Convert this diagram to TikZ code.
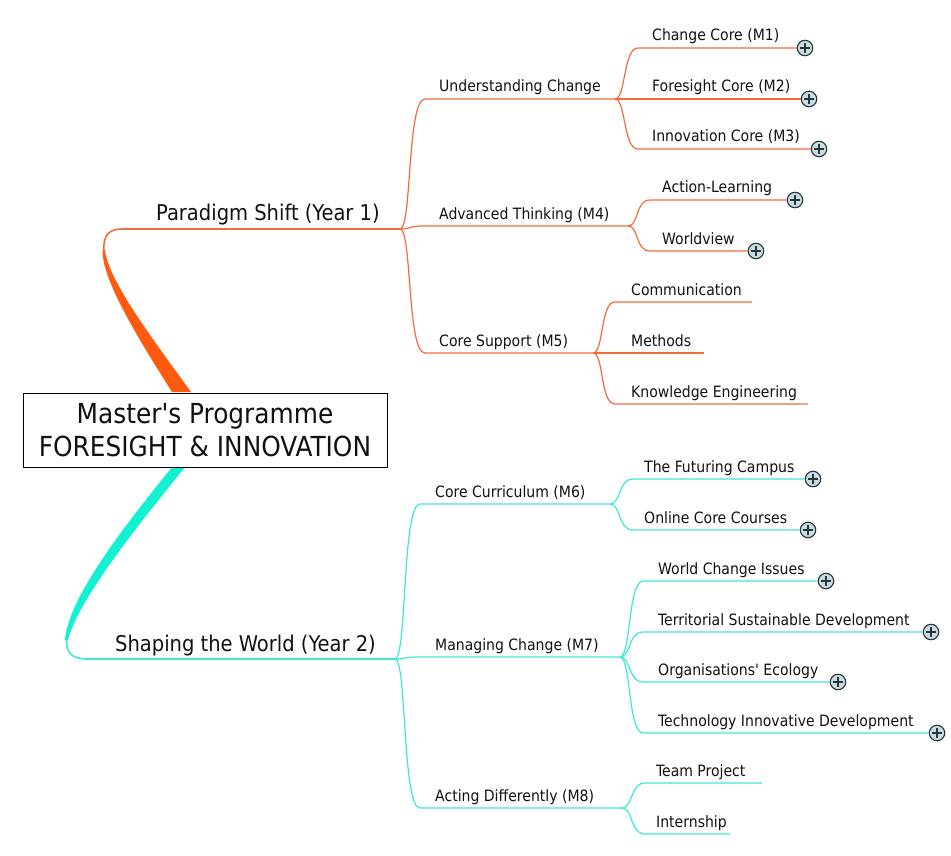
\documentclass[tikz,border=0pt]{standalone}
\usepackage{fontspec}
\defaultfontfeatures[\rmfamily]{}
\setmainfont{DejaVu Sans Condensed}
\definecolor{brO}{HTML}{FF5A0F}
\definecolor{lnO}{HTML}{F26B3A}
\definecolor{brC}{HTML}{12F2D2}
\definecolor{lnC}{HTML}{3DE8D4}
\definecolor{plusfill}{HTML}{C9DCE2}
\definecolor{plusline}{HTML}{27363B}
\definecolor{txt}{HTML}{111111}
\newcommand\lnk[4]{\draw[#1] (#2) .. controls +(11,0) and +(-15,0) .. (#3) -- (#4);}
\begin{document}
\begin{tikzpicture}[x=1pt,y=-1pt,
  lbl/.style={anchor=base west, inner sep=0pt, font=\fontsize{15.6}{19}\selectfont, text=txt},
  mid/.style={anchor=base west, inner sep=0pt, font=\fontsize{21.7}{26}\selectfont, text=txt},
  olink/.style={draw=lnO, line width=1.2pt},
  clink/.style={draw=lnC, line width=1.2pt},
  plusbtn/.style={circle, draw=plusline, fill=plusfill, line width=1.1pt, minimum size=15.5pt, inner sep=0pt,
    path picture={\draw[plusline, line width=2.2pt]
      ([xshift=-4.8pt]path picture bounding box.center) -- ([xshift=4.8pt]path picture bounding box.center)
      ([yshift=-4.8pt]path picture bounding box.center) -- ([yshift=4.8pt]path picture bounding box.center);}},
]
\useasboundingbox (0,0) rectangle (951,856);

% ---------- thick main branches ----------
\coordinate (ps-top) at (103.8,250);
\coordinate (ps-j) at (400,229);
\coordinate (sw-top) at (66.5,640);
\coordinate (sw-j) at (395,659);
\fill[brO] (172,392) .. controls (138,338) and (102,280) .. (102.5,250) -- (105,250)
   .. controls (108,280) and (152,338) .. (191,392) -- cycle;
\draw[lnO, line width=1.6pt] (ps-top) .. controls (103.5,236) and (108,229) .. (122,229) -- (ps-j);
\fill[brC] (173,466) .. controls (125,525) and (68,598) .. (65,640) -- (68,640)
   .. controls (78,600) and (138,525) .. (186,466) -- cycle;
\draw[lnC, line width=1.6pt] (sw-top) .. controls (66,654) and (73,659) .. (88,659) -- (sw-j);

% ---------- root ----------
\node[draw=black, line width=0.8pt, fill=white, minimum width=364pt, minimum height=74pt,
  align=center, font=\fontsize{27.6}{32.5}\selectfont, inner sep=0pt, text=txt] (root) at (205,430)
  {Master's Programme\\FORESIGHT \& INNOVATION};

% ---------- level 1 labels ----------
\node[mid] (t-ps) at (156,221) {Paradigm Shift (Year 1)};
\node[mid] (t-sw) at (115,651) {Shaping the World (Year 2)};

% ---------- orange subtree ----------
\coordinate (uc-c) at (425,99);  \coordinate (uc-j) at (615,99);
\coordinate (at-c) at (425,226); \coordinate (at-j) at (628,226);
\coordinate (cs-c) at (425,353); \coordinate (cs-j) at (593,353);
\node[plusbtn] (m1-p) at (805,48) {};
\node[plusbtn] (m2-p) at (809,99) {};
\node[plusbtn] (m3-p) at (819,149) {};
\node[plusbtn] (al-p) at (795,200) {};
\node[plusbtn] (wv-p) at (756,251) {};
\coordinate (m1-c) at (638,48);
\coordinate (m2-c) at (638,99);
\coordinate (m3-c) at (638,149);
\coordinate (al-c) at (650,200);
\coordinate (wv-c) at (650,251);
\coordinate (co-c) at (615,302); \coordinate (co-e) at (752,302);
\coordinate (me-c) at (615,353); \coordinate (me-e) at (704,353);
\coordinate (ke-c) at (615,404); \coordinate (ke-e) at (808,404);

\draw[olink] (ps-j) .. controls +(12,0) and +(-18,0) .. (uc-c) -- (uc-j);
\draw[olink] (ps-j) .. controls +(12,0) and +(-18,0) .. (at-c) -- (at-j);
\draw[olink] (ps-j) .. controls +(12,0) and +(-18,0) .. (cs-c) -- (cs-j);
\lnk{olink}{uc-j}{m1-c}{m1-p.west}
\lnk{olink}{uc-j}{m2-c}{m2-p.west}
\lnk{olink}{uc-j}{m3-c}{m3-p.west}
\lnk{olink}{at-j}{al-c}{al-p.west}
\lnk{olink}{at-j}{wv-c}{wv-p.west}
\lnk{olink}{cs-j}{co-c}{co-e}
\lnk{olink}{cs-j}{me-c}{me-e}
\lnk{olink}{cs-j}{ke-c}{ke-e}

\node[lbl] (t-uc) at (439,92)  {Understanding Change};
\node[lbl] (t-at) at (439,219) {Advanced Thinking (M4)};
\node[lbl] (t-cs) at (439,346) {Core Support (M5)};
\node[lbl] (t-m1) at (652,41)  {Change Core (M1)};
\node[lbl] (t-m2) at (652,92)  {Foresight Core (M2)};
\node[lbl] (t-m3) at (652,142) {Innovation Core (M3)};
\node[lbl] (t-al) at (662,193) {Action-Learning};
\node[lbl] (t-wv) at (662,244) {Worldview};
\node[lbl] (t-co) at (631,295) {Communication};
\node[lbl] (t-me) at (631,346) {Methods};
\node[lbl] (t-ke) at (631,397) {Knowledge Engineering};

% ---------- cyan subtree ----------
\coordinate (cc-c) at (420,504); \coordinate (cc-j) at (610,504);
\coordinate (mc-c) at (420,657); \coordinate (mc-j) at (620,657);
\coordinate (ad-c) at (420,808); \coordinate (ad-j) at (622,808);
\node[plusbtn] (fc-p) at (813,479) {};
\node[plusbtn] (oc-p) at (808,530) {};
\node[plusbtn] (wc-p) at (826,581) {};
\node[plusbtn] (ts-p) at (931,632) {};
\node[plusbtn] (oe-p) at (838,682) {};
\node[plusbtn] (ti-p) at (937,733) {};
\coordinate (fc-c) at (633,479);
\coordinate (oc-c) at (633,530);
\coordinate (wc-c) at (643,581);
\coordinate (ts-c) at (643,632);
\coordinate (oe-c) at (643,682);
\coordinate (ti-c) at (643,733);
\coordinate (tp-c) at (645,783); \coordinate (tp-e) at (762,783);
\coordinate (in-c) at (645,834); \coordinate (in-e) at (730,834);

\draw[clink] (sw-j) .. controls +(12,0) and +(-18,0) .. (cc-c) -- (cc-j);
\draw[clink] (sw-j) .. controls +(12,0) and +(-18,0) .. (mc-c) -- (mc-j);
\draw[clink] (sw-j) .. controls +(12,0) and +(-18,0) .. (ad-c) -- (ad-j);
\lnk{clink}{cc-j}{fc-c}{fc-p.west}
\lnk{clink}{cc-j}{oc-c}{oc-p.west}
\lnk{clink}{mc-j}{wc-c}{wc-p.west}
\lnk{clink}{mc-j}{ts-c}{ts-p.west}
\lnk{clink}{mc-j}{oe-c}{oe-p.west}
\lnk{clink}{mc-j}{ti-c}{ti-p.west}
\lnk{clink}{ad-j}{tp-c}{tp-e}
\lnk{clink}{ad-j}{in-c}{in-e}

\node[lbl] (t-cc) at (435,497) {Core Curriculum (M6)};
\node[lbl] (t-mc) at (435,650) {Managing Change (M7)};
\node[lbl] (t-ad) at (435,801) {Acting Differently (M8)};
\node[lbl] (t-fc) at (644,472) {The Futuring Campus};
\node[lbl] (t-oc) at (644,523) {Online Core Courses};
\node[lbl] (t-wc) at (658,574) {World Change Issues};
\node[lbl] (t-ts) at (658,625) {Territorial Sustainable Development};
\node[lbl] (t-oe) at (658,675) {Organisations' Ecology};
\node[lbl] (t-ti) at (658,726) {Technology Innovative Development};
\node[lbl] (t-tp) at (656,776) {Team Project};
\node[lbl] (t-in) at (656,827) {Internship};
\end{tikzpicture}
\end{document}
